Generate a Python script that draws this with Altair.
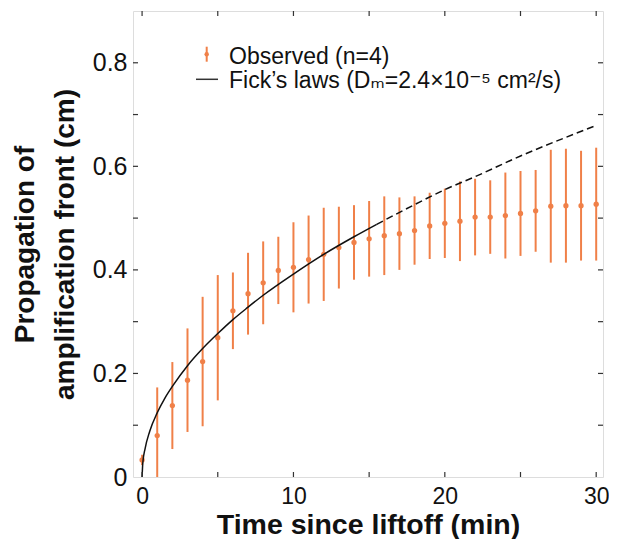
import altair as alt
import pandas as pd

time_min = list(range(0, 31))
mean_cm = [0.033, 0.080, 0.138, 0.187, 0.223, 0.269, 0.321, 0.354, 0.375, 0.399,
           0.405, 0.420, 0.430, 0.443, 0.453, 0.460, 0.466, 0.470, 0.476, 0.485,
           0.490, 0.494, 0.502, 0.502, 0.505, 0.509, 0.514, 0.523, 0.524, 0.524, 0.527]
err_cm = [0.010, 0.093, 0.084, 0.100, 0.125, 0.121, 0.074, 0.079, 0.080, 0.065,
          0.087, 0.085, 0.090, 0.079, 0.072, 0.073, 0.076, 0.070, 0.066, 0.064,
          0.067, 0.077, 0.074, 0.071, 0.083, 0.082, 0.079, 0.109, 0.110, 0.106, 0.109]

# Fick's law curve
fit_t_solid = [0, 0.05, 0.2, 0.5, 1, 1.5, 2, 3, 4, 5, 6, 7, 8, 10, 12, 14, 15.5]
fit_y_solid = [0, 0.028, 0.055, 0.088, 0.124, 0.152, 0.175, 0.215, 0.248, 0.277,
               0.304, 0.328, 0.351, 0.392, 0.430, 0.464, 0.488]
fit_t_dash = [15.5, 18, 20, 22, 25, 28, 30]
fit_y_dash = [0.488, 0.526, 0.555, 0.580, 0.620, 0.656, 0.679]

x_ticks = [0, 5, 10, 15, 20, 25, 30]
y_ticks = [0.1, 0.2, 0.3, 0.4, 0.5, 0.6, 0.7, 0.8]

ORANGE = "#F08048"
FONT = "Liberation Sans, Arial, DejaVu Sans"
W, H = 470, 466

obs = pd.DataFrame({"t": time_min, "m": mean_cm, "e": err_cm})
obs["lo"] = obs["m"] - obs["e"]
obs["hi"] = obs["m"] + obs["e"]
solid = pd.DataFrame({"t": fit_t_solid, "y": fit_y_solid})
dash = pd.DataFrame({"t": fit_t_dash, "y": fit_y_dash})
xt = pd.DataFrame({"v": x_ticks})
yt = pd.DataFrame({"v": y_ticks})

xs = alt.Scale(domain=[-0.6, 30.45], nice=False, zero=False)
ys = alt.Scale(domain=[0, 0.9], nice=False, zero=False)

x_axis = alt.Axis(values=[0, 10, 20, 30], title="Time since liftoff (min)",
                  grid=False, domain=False, ticks=True, tickSize=0, labelPadding=8,
                  labelFontSize=23, labelFont=FONT, labelColor="#111",
                  titleFont=FONT, titleFontSize=28.5, titleFontWeight="bold", titleColor="#111",
                  titleBaseline="alphabetic", titleX=W / 2, titleY=56, titleAnchor="middle",
                  titleAlign="center")
y_axis = alt.Axis(values=[0, 0.2, 0.4, 0.6, 0.8], title=["Propagation of", "amplification front (cm)"],
                  labelExpr="datum.value == 0 ? '0' : format(datum.value, '.1f')",
                  grid=False, domain=False, ticks=True, tickSize=0, labelPadding=6,
                  labelFontSize=25, labelFont=FONT, labelColor="#111",
                  titleFont=FONT, titleFontSize=28, titleFontWeight="bold", titleColor="#111",
                  titleAngle=-90, titleBaseline="alphabetic", titleLineHeight=40,
                  titleX=-100, titleY=H / 2, titleAlign="center", titleAnchor="middle")

base = alt.Chart(obs)
errbars = base.mark_rule(color=ORANGE, strokeWidth=2, clip=True).encode(
    x=alt.X("t:Q", scale=xs, axis=x_axis),
    y=alt.Y("lo:Q", scale=ys, axis=y_axis),
    y2="hi:Q",
)
dots = base.mark_circle(color=ORANGE, size=28, opacity=1).encode(
    x=alt.X("t:Q", scale=xs), y=alt.Y("m:Q", scale=ys))

line_solid = alt.Chart(solid).mark_line(color="#111", strokeWidth=1.5, interpolate="monotone").encode(
    x=alt.X("t:Q", scale=xs), y=alt.Y("y:Q", scale=ys))
line_dash = alt.Chart(dash).mark_line(color="#111", strokeWidth=1.5, strokeDash=[7, 4],
                                      interpolate="monotone").encode(
    x=alt.X("t:Q", scale=xs), y=alt.Y("y:Q", scale=ys))

# inward ticks on all four sides
tk_bottom = alt.Chart(xt).mark_rule(color="#333", strokeWidth=1.2).encode(
    x=alt.X("v:Q", scale=xs), y=alt.value(H), y2=alt.value(H - 5))
tk_top = alt.Chart(xt).mark_rule(color="#333", strokeWidth=1.2).encode(
    x=alt.X("v:Q", scale=xs), y=alt.value(0), y2=alt.value(5))
tk_left = alt.Chart(yt).mark_rule(color="#333", strokeWidth=1.2).encode(
    y=alt.Y("v:Q", scale=ys), x=alt.value(0), x2=alt.value(5))
tk_right = alt.Chart(yt).mark_rule(color="#333", strokeWidth=1.2).encode(
    y=alt.Y("v:Q", scale=ys), x=alt.value(W), x2=alt.value(W - 5))

# legend
one = pd.DataFrame({"a": [0]})
leg_bar = alt.Chart(one).mark_rule(color=ORANGE, strokeWidth=2).encode(
    x=alt.value(73.7), y=alt.value(35.7), y2=alt.value(50.7))
leg_dot = alt.Chart(one).mark_circle(color=ORANGE, size=20, opacity=1).encode(
    x=alt.value(73.7), y=alt.value(43.2))
leg_line = alt.Chart(one).mark_rule(color="#333", strokeWidth=1.5).encode(
    x=alt.value(63), x2=alt.value(85), y=alt.value(68.3))
leg_t1 = alt.Chart(one).mark_text(align="left", baseline="alphabetic", fontSize=23, font=FONT,
                                  color="#111", text="Observed (n=4)").encode(
    x=alt.value(96), y=alt.value(53), size=alt.value(23))
leg_t2 = alt.Chart(one).mark_text(align="left", baseline="alphabetic", fontSize=23, font=FONT,
                                  color="#111",
                                  text="Fick\u2019s laws (D\u2098=2.4\u00d710\u207b\u2075 cm\u00b2/s)").encode(
    x=alt.value(96), y=alt.value(77.3), size=alt.value(23))

chart = alt.layer(
    errbars, dots, line_solid, line_dash,
    tk_bottom, tk_top, tk_left, tk_right,
    leg_bar, leg_dot, leg_line, leg_t1, leg_t2,
).properties(
    width=W, height=H,
    padding={"left": 125, "top": 3, "right": 6, "bottom": 62},
    autosize="none",
).configure_view(stroke="#333", strokeWidth=1.5).configure(background="white")

chart.save("out.html", embed_options={"renderer": "svg", "actions": False})
